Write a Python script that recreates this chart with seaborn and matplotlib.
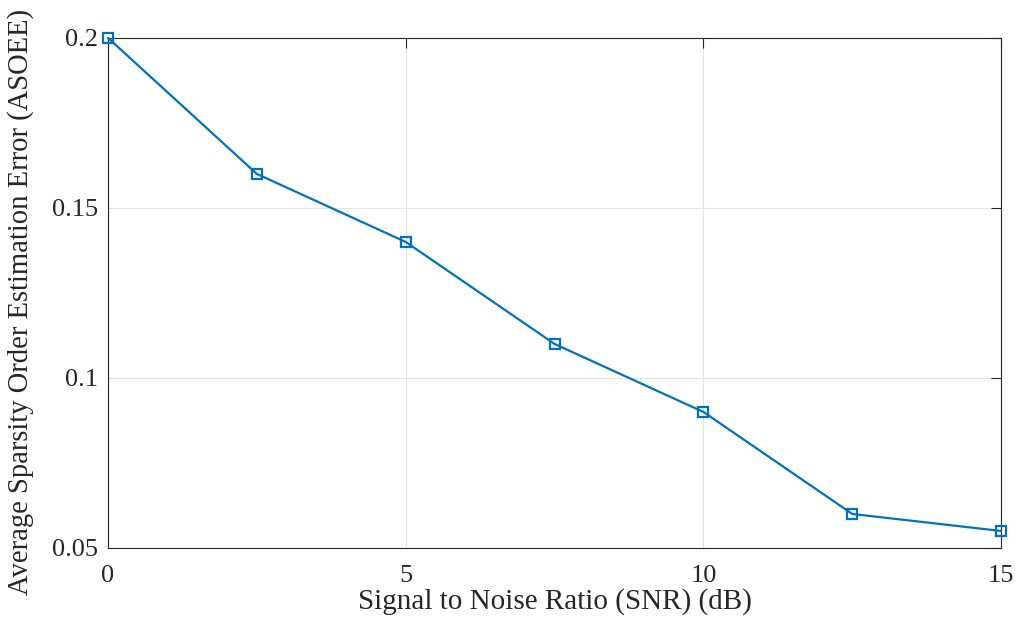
import matplotlib
matplotlib.use("Agg")
import matplotlib.pyplot as plt
import seaborn as sns
import pandas as pd

snr_db = [0, 2.5, 5, 7.5, 10, 12.5, 15]
asoee = [0.2, 0.16, 0.14, 0.11, 0.09, 0.06, 0.055]
x_ticks = [0, 5, 10, 15]
y_ticks = [0.05, 0.1, 0.15, 0.2]
y_tick_labels = ["0.05", "0.1", "0.15", "0.2"]

sns.set_style("white")
plt.rcParams["font.family"] = ["Liberation Serif", "DejaVu Serif"]

df = pd.DataFrame({"SNR": snr_db, "ASOEE": asoee})

fig = plt.figure(figsize=(10.19, 6.22), dpi=100)
ax = fig.add_axes([0.106, 0.119, 0.8765, 0.820])

sns.lineplot(data=df, x="SNR", y="ASOEE", ax=ax, color="#0072BD",
             linewidth=1.6, marker="s", markersize=7,
             markerfacecolor="none", markeredgecolor="#0072BD",
             markeredgewidth=1.6, clip_on=False, zorder=5)

ax.set_xlim(0, 15)
ax.set_ylim(0.05, 0.2)
ax.set_xticks(x_ticks)
ax.set_xticklabels([str(t) for t in x_ticks])
ax.set_yticks(y_ticks)
ax.set_yticklabels(y_tick_labels)

ax.grid(True, color="#e3e3e3", linewidth=0.8)
ax.set_axisbelow(True)
for side in ["top", "right", "bottom", "left"]:
    ax.spines[side].set_visible(True)
    ax.spines[side].set_color("#262626")
    ax.spines[side].set_linewidth(0.8)

ax.tick_params(axis="both", direction="in", length=7, width=0.8,
               top=True, right=True, labelsize=19, colors="#262626")
ax.tick_params(axis="x", pad=12)
ax.tick_params(axis="y", pad=7)

ax.set_xlabel("Signal to Noise Ratio (SNR) (dB)", fontsize=21,
              color="#262626", labelpad=1)
ax.set_ylabel("Average Sparsity Order Estimation Error (ASOEE)",
              fontsize=20.6, color="#262626")
ax.yaxis.set_label_coords(-0.083, 0.482)

fig.savefig("out.png", dpi=100)
